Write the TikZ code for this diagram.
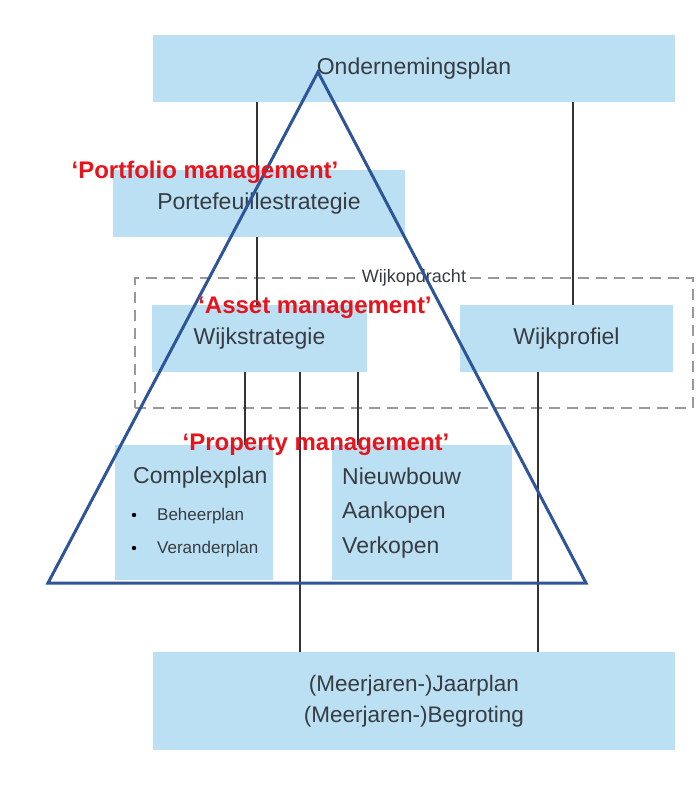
\documentclass[tikz,border=0pt]{standalone}
\usepackage{fontspec}
\setmainfont{Liberation Sans}
\definecolor{boxblue}{RGB}{188,224,243}
\definecolor{triblue}{RGB}{46,85,151}
\definecolor{labred}{RGB}{230,20,28}
\definecolor{txtgray}{RGB}{55,60,66}
\begin{document}
\begin{tikzpicture}[x=1pt,y=-1pt,
	box/.style={fill=boxblue,inner sep=0pt,text=txtgray,font=\fontsize{23}{27}\selectfont},
	conn/.style={line width=1.3pt,black!80},
	mgmt/.style={text=labred,font=\fontsize{24}{28}\selectfont\bfseries,inner sep=0pt}]
	\useasboundingbox (0,0) rectangle (699,787);
	% boxes
	\node[box,minimum width=522,minimum height=67] (onder) at (414,68.5) {Ondernemingsplan};
	\node[box,minimum width=292,minimum height=67] (port) at (259,203.5) {Portefeuillestrategie};
	\node[draw=black!40,dash pattern=on 11pt off 7pt,line width=1.3pt,minimum width=558,minimum height=130] (opdracht) at (414,343) {};
	\node[fill=white,inner sep=1pt,text=txtgray,font=\fontsize{18}{20}\selectfont] (opdrlabel) at (opdracht.north) {Wijkopdracht};
	\node[box,minimum width=215,minimum height=67] (strat) at (259.5,338.5) {Wijkstrategie};
	\node[box,minimum width=213,minimum height=67] (profiel) at (566.5,338.5) {Wijkprofiel};
	\node[box,minimum width=158,minimum height=135] (complex) at (194,512.5) {};
	\node[box,minimum width=180,minimum height=135] (nieuw) at (422,512.5) {};
	\node[box,minimum width=522,minimum height=98,align=center,font=\fontsize{22.5}{31}\selectfont] (jaar) at (414,701) {(Meerjaren-)Jaarplan\\(Meerjaren-)Begroting};
	% box texts
	\node[anchor=west,inner sep=0pt,text=txtgray,font=\fontsize{23}{27}\selectfont] (cplan) at (133,478) {Complexplan};
	\node[anchor=west,inner sep=0pt,text=txtgray,font=\fontsize{17}{20}\selectfont] (beheer) at (157,516) {Beheerplan};
	\node[anchor=west,inner sep=0pt,text=txtgray,font=\fontsize{17}{20}\selectfont] (verander) at (157,549) {Veranderplan};
	\foreach \y in {515,548}{\fill[black] (134,\y) circle (2.2pt);}
	\node[anchor=west,inner sep=0pt,align=left,text=txtgray,font=\fontsize{23}{34.5}\selectfont] (ntxt) at (342,513) {Nieuwbouw\\Aankopen\\Verkopen};
	% connectors
	\draw[conn] (onder.south -| 257,0) -- (port.north -| 257,0);
	\draw[conn] (onder.south -| 573,0) -- (profiel.north -| 573,0);
	\draw[conn] (port.south -| 257,0) -- (strat.north -| 257,0);
	\draw[conn] (strat.south -| 245,0) -- (complex.north -| 245,0);
	\draw[conn] (strat.south -| 300,0) -- (jaar.north -| 300,0);
	\draw[conn] (strat.south -| 358,0) -- (nieuw.north -| 358,0);
	\draw[conn] (profiel.south -| 538,0) -- (jaar.north -| 538,0);
	% pyramid
	\draw[triblue,line width=3pt,line join=miter] (318,72) -- (48,583) -- (586,583) -- cycle;
	\node[mgmt] (portfolio) at (205,172) {‘Portfolio management’};
	\node[mgmt] (asset) at (315,308) {‘Asset management’};
	\node[mgmt] (property) at (316,445) {‘Property management’};
\end{tikzpicture}
\end{document}
